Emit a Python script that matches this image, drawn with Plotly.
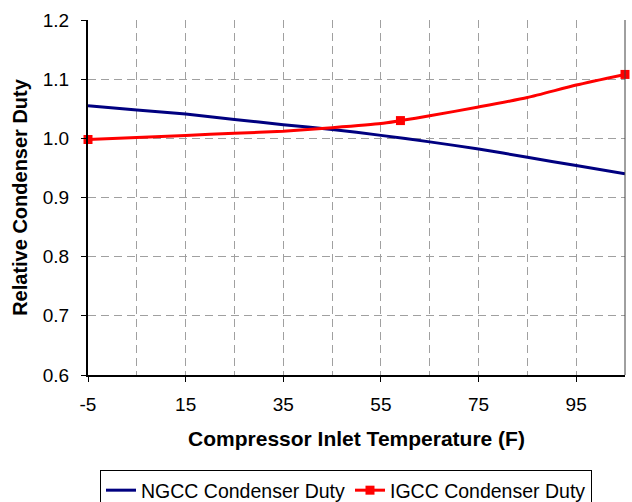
import plotly.graph_objects as go

# Data
ngcc_temp = [-5, 5, 15, 25, 35, 45, 55, 65, 75, 85, 95, 105]
ngcc_duty = [1.055, 1.048, 1.041, 1.032, 1.023, 1.015, 1.005, 0.994, 0.982, 0.968, 0.954, 0.940]

igcc_temp = [-5, 5, 15, 25, 35, 45, 55, 59, 65, 75, 85, 95, 105]
igcc_duty = [0.998, 1.0015, 1.005, 1.0085, 1.012, 1.018, 1.025, 1.030, 1.038, 1.053, 1.069, 1.090, 1.108]
igcc_marked = [-5, 59, 105]  # points that carry a visible marker

x_tick_vals = [-5, 15, 35, 55, 75, 95]
x_tick_text = ["-5", "15", "35", "55", "75", "95"]
y_tick_vals = [0.6, 0.7, 0.8, 0.9, 1.0, 1.1, 1.2]
y_tick_text = ["0.6", "0.7", "0.8", "0.9", "1.0", "1.1", "1.2"]

FONT = "Arial, Liberation Sans, sans-serif"
GRID = "#a0a0a0"
DASH = "8px,5px"

igcc_marker_colors = ["#ff0000" if t in igcc_marked else "rgba(0,0,0,0)" for t in igcc_temp]

fig = go.Figure()
fig.add_trace(go.Scatter(
    x=ngcc_temp, y=ngcc_duty, name="NGCC Condenser Duty", mode="lines",
    line=dict(color="#000080", width=3, shape="spline", smoothing=0.6),
    cliponaxis=False,
))
fig.add_trace(go.Scatter(
    x=igcc_temp, y=igcc_duty, name="IGCC Condenser Duty", mode="lines+markers",
    line=dict(color="#ff0000", width=3, shape="spline", smoothing=0.6),
    marker=dict(symbol="square", size=9, color=igcc_marker_colors, line=dict(width=0)),
    cliponaxis=False,
))

fig.update_layout(
    width=632, height=502,
    margin=dict(l=88, r=7, t=20, b=127),
    paper_bgcolor="white", plot_bgcolor="white",
    font=dict(family=FONT, size=19, color="black"),
    showlegend=True,
    legend=dict(
        orientation="h", xref="container", yref="container",
        x=100 / 632, xanchor="left", y=1 - 470 / 502, yanchor="top",
        bordercolor="black", borderwidth=1, font=dict(size=19.5, color="black"),
        tracegroupgap=0,
    ),
)

fig.update_xaxes(
    range=[-5, 105], tickvals=x_tick_vals, ticktext=x_tick_text,
    ticks="outside", ticklen=5, tickcolor="black", tickwidth=1,
    ticklabelstandoff=6,
    showline=True, linecolor="black", linewidth=2,
    showgrid=True, gridcolor=GRID, griddash=DASH, gridwidth=1,
    minor=dict(tick0=-5, dtick=10, showgrid=True, gridcolor=GRID, griddash=DASH, gridwidth=1),
    zeroline=False, automargin=False,
    title=dict(text="<b>Compressor Inlet Temperature (F)</b>", font=dict(size=21), standoff=18),
)
fig.update_yaxes(
    range=[0.6, 1.2], tickvals=y_tick_vals, ticktext=y_tick_text,
    ticks="outside", ticklen=5, tickcolor="black", tickwidth=1,
    ticklabelstandoff=8,
    showline=True, linecolor="black", linewidth=2,
    showgrid=True, gridcolor=GRID, griddash=DASH, gridwidth=1,
    zeroline=False, automargin=False,
    title=dict(text="<b>Relative Condenser Duty</b>", font=dict(size=20), standoff=10),
)

# thin right-hand frame line of the plot area
fig.add_shape(type="line", xref="x domain", yref="y domain", x0=1, x1=1, y0=0, y1=1,
              line=dict(color="#404040", width=1))

fig.write_html("out.html")
